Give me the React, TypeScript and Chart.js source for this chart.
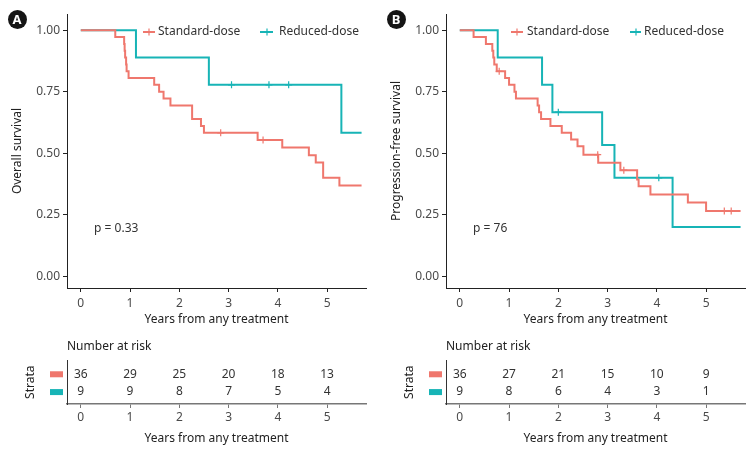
import React, { useEffect, useRef } from 'react';
import { Chart, registerables } from 'chart.js';

Chart.register(...registerables);

// ---------- data ----------
const GROUPS = ['Standard-dose', 'Reduced-dose'];
const X_TICKS = [0, 1, 2, 3, 4, 5];
const Y_TICKS = [0, 0.25, 0.5, 0.75, 1];

// Panel A – overall survival
const A_STD_TIME = [0, 0.70, 0.88, 0.89, 0.90, 0.92, 0.93, 0.97, 1.49, 1.59, 1.68, 1.82, 2.26, 2.44, 2.50, 3.59, 4.09, 4.63, 4.77, 4.92, 5.25, 5.70];
const A_STD_SURV = [1, 0.972, 0.944, 0.917, 0.889, 0.861, 0.833, 0.806, 0.778, 0.750, 0.722, 0.694, 0.639, 0.611, 0.583, 0.554, 0.523, 0.492, 0.462, 0.400, 0.369, 0.369];
const A_STD_CENSOR = [2.84, 3.70];
const A_RED_TIME = [0, 1.12, 2.60, 5.29, 5.70];
const A_RED_SURV = [1, 0.889, 0.778, 0.583, 0.583];
const A_RED_CENSOR = [3.06, 3.82, 4.22];
const A_RISK_STD = [36, 29, 25, 20, 18, 13];
const A_RISK_RED = [9, 9, 8, 7, 5, 4];
const A_P_TEXT = 'p = 0.33';
const A_Y_TITLE = 'Overall survival';

// Panel B – progression-free survival
const B_STD_TIME = [0, 0.28, 0.53, 0.66, 0.68, 0.70, 0.75, 0.92, 1.00, 1.11, 1.14, 1.58, 1.61, 1.65, 1.84, 2.07, 2.26, 2.39, 2.51, 2.81, 3.26, 3.60, 3.63, 3.87, 4.63, 5.00, 5.70];
const B_STD_SURV = [1, 0.972, 0.944, 0.917, 0.889, 0.861, 0.833, 0.806, 0.778, 0.750, 0.722, 0.694, 0.667, 0.639, 0.611, 0.583, 0.556, 0.528, 0.494, 0.461, 0.431, 0.393, 0.366, 0.332, 0.300, 0.265, 0.265];
const B_STD_CENSOR = [0.80, 2.80, 3.33, 5.37, 5.51];
const B_RED_TIME = [0, 0.77, 1.67, 1.88, 2.89, 3.14, 4.32, 5.70];
const B_RED_SURV = [1, 0.889, 0.778, 0.667, 0.533, 0.400, 0.200, 0.200];
const B_RED_CENSOR = [2.00, 4.04];
const B_RISK_STD = [36, 27, 21, 15, 10, 9];
const B_RISK_RED = [9, 8, 6, 4, 3, 1];
const B_P_TEXT = 'p = 76';
const B_Y_TITLE = 'Progression-free survival';

const X_TITLE = 'Years from any treatment';
const RISK_TITLE = 'Number at risk';
const STRATA_TITLE = 'Strata';

// ---------- styles ----------
const RED = '#EF776D';
const TEAL = '#17B4B6';
const COLORS = [RED, TEAL];
const FONT = '"Noto Sans", "DejaVu Sans", sans-serif';
const TICK_COLOR = '#4a4a4a';
const TITLE_COLOR = '#222';
const X_MIN = -0.28;
const X_MAX = 5.79;

function survAt(times: number[], surv: number[], t: number) {
  let v = surv[0];
  for (let i = 0; i < times.length; i++) if (times[i] <= t) v = surv[i];
  return v;
}

type Panel = {
  stdT: number[]; stdS: number[]; stdC: number[];
  redT: number[]; redS: number[]; redC: number[];
  riskStd: number[]; riskRed: number[];
  pText: string; yTitle: string;
  legend: { l0: number; l1: number; cx: number; tx: number }[];
};

const PANELS: Panel[] = [
  {
    stdT: A_STD_TIME, stdS: A_STD_SURV, stdC: A_STD_CENSOR,
    redT: A_RED_TIME, redS: A_RED_SURV, redC: A_RED_CENSOR,
    riskStd: A_RISK_STD, riskRed: A_RISK_RED, pText: A_P_TEXT, yTitle: A_Y_TITLE,
    legend: [{ l0: 143, l1: 155, cx: 149, tx: 158 }, { l0: 260, l1: 273, cx: 267, tx: 279 }],
  },
  {
    stdT: B_STD_TIME, stdS: B_STD_SURV, stdC: B_STD_CENSOR,
    redT: B_RED_TIME, redS: B_RED_SURV, redC: B_RED_CENSOR,
    riskStd: B_RISK_STD, riskRed: B_RISK_RED, pText: B_P_TEXT, yTitle: B_Y_TITLE,
    legend: [{ l0: 132, l1: 144, cx: 138, tx: 148 }, { l0: 251, l1: 262, cx: 257, tx: 265 }],
  },
];

function xScale(height: number, tickPad: number, titlePadBottom: number, axisColor: string, axisWidth: number) {
  return {
    type: 'linear',
    min: X_MIN,
    max: X_MAX,
    afterBuildTicks: (s: any) => { s.ticks = X_TICKS.map((v) => ({ value: v })); },
    afterFit: (s: any) => { s.height = height; },
    grid: { display: true, drawOnChartArea: false, drawTicks: true, tickLength: 4, color: axisColor, lineWidth: 1 },
    border: { display: true, color: axisColor, width: axisWidth },
    ticks: { color: TICK_COLOR, font: { family: FONT, size: 12 }, padding: tickPad, autoSkip: false, maxRotation: 0, callback: (v: any) => String(v) },
    title: { display: true, text: X_TITLE, color: TITLE_COLOR, font: { family: FONT, size: 12 }, padding: { top: 0, bottom: titlePadBottom } },
  };
}

function plotConfig(p: Panel): any {
  const series = [
    { t: p.stdT, s: p.stdS, c: p.stdC },
    { t: p.redT, s: p.redS, c: p.redC },
  ];
  const datasets: any[] = [];
  series.forEach((se, i) => {
    datasets.push({
      label: GROUPS[i],
      data: se.t.map((t, j) => ({ x: t, y: se.s[j] })),
      showLine: true, stepped: 'before', borderColor: COLORS[i], borderWidth: 2,
      pointRadius: 0, fill: false,
    });
    datasets.push({
      label: GROUPS[i] + ' (censored)',
      data: se.c.map((t) => ({ x: t, y: survAt(se.t, se.s, t) })),
      showLine: false, pointStyle: 'cross', pointRadius: 3.5,
      borderColor: COLORS[i], backgroundColor: COLORS[i], pointBorderWidth: 1.2,
    });
  });

  const overlay = {
    id: 'kmOverlay',
    afterDraw(chart: any) {
      const ctx = chart.ctx;
      const xs = chart.scales.x;
      const ys = chart.scales.y;
      ctx.save();
      // legend
      const ly = 32;
      p.legend.forEach((it, i) => {
        ctx.strokeStyle = COLORS[i];
        ctx.lineWidth = 2;
        ctx.beginPath(); ctx.moveTo(it.l0, ly); ctx.lineTo(it.l1, ly); ctx.stroke();
        ctx.lineWidth = 1.2;
        ctx.beginPath(); ctx.moveTo(it.cx, ly - 3.5); ctx.lineTo(it.cx, ly + 3.5); ctx.stroke();
        ctx.fillStyle = '#333';
        ctx.font = `12px ${FONT}`;
        ctx.textAlign = 'left';
        ctx.textBaseline = 'middle';
        ctx.fillText(GROUPS[i], it.tx, ly);
      });
      // p value
      ctx.fillStyle = '#333';
      ctx.font = `12px ${FONT}`;
      ctx.textAlign = 'left';
      ctx.textBaseline = 'middle';
      ctx.fillText(p.pText, xs.getPixelForValue(0.27), ys.getPixelForValue(0.195));
      ctx.restore();
    },
  };

  return {
    type: 'scatter',
    data: { datasets },
    options: {
      animation: false,
      responsive: false,
      maintainAspectRatio: false,
      layout: { padding: { top: 14, right: 11, left: 0, bottom: 0 } },
      plugins: { legend: { display: false }, tooltip: { enabled: false }, title: { display: false } },
      scales: {
        x: xScale(42, 4, 3, '#222', 1),
        y: {
          type: 'linear',
          min: -0.048,
          max: 1.066,
          afterBuildTicks: (s: any) => { s.ticks = Y_TICKS.map((v) => ({ value: v })); },
          afterFit: (s: any) => { s.width = 67; },
          grid: { display: true, drawOnChartArea: false, drawTicks: true, tickLength: 4, color: '#222' },
          border: { display: true, color: '#222', width: 1 },
          ticks: { color: TICK_COLOR, font: { family: FONT, size: 12 }, padding: 3, callback: (v: any) => Number(v).toFixed(2) },
          title: { display: true, text: p.yTitle, color: TITLE_COLOR, font: { family: FONT, size: 12 }, padding: { top: 10, bottom: 0 } },
        },
      },
    },
    plugins: [overlay],
  };
}

function tableConfig(p: Panel): any {
  const rows = [p.riskStd, p.riskRed];
  const datasets = rows.map((r, i) => ({
    label: GROUPS[i],
    data: r.map((n, j) => ({ x: X_TICKS[j], y: rows.length - i, n })),
    showLine: false, pointRadius: 0, borderColor: COLORS[i], backgroundColor: COLORS[i],
  }));

  const overlay = {
    id: 'riskOverlay',
    afterDatasetsDraw(chart: any) {
      const ctx = chart.ctx;
      ctx.save();
      chart.data.datasets.forEach((ds: any, i: number) => {
        const meta = chart.getDatasetMeta(i);
        ctx.fillStyle = '#333';
        ctx.font = `12px ${FONT}`;
        ctx.textAlign = 'center';
        ctx.textBaseline = 'middle';
        meta.data.forEach((el: any, j: number) => {
          ctx.fillText(String(ds.data[j].n), el.x, el.y);
        });
        const py = meta.data[0].y;
        ctx.fillStyle = ds.borderColor;
        ctx.fillRect(50, py - 3, 13, 6);
      });
      ctx.restore();
    },
  };

  return {
    type: 'scatter',
    data: { datasets },
    options: {
      animation: false,
      responsive: false,
      maintainAspectRatio: false,
      layout: { padding: { top: 0, right: 11, left: 0, bottom: 0 } },
      plugins: {
        legend: { display: false },
        tooltip: { enabled: false },
        title: {
          display: true, text: RISK_TITLE, align: 'start', fullSize: false,
          color: TITLE_COLOR, font: { family: FONT, size: 12, weight: 'normal' },
          padding: { top: 9, bottom: 7 },
        },
      },
      scales: {
        x: xScale(47, 2, 5, '#777', 1.5),
        y: {
          type: 'linear',
          min: 0.33,
          max: 2.78,
          afterFit: (s: any) => { s.width = 67; },
          grid: { display: false },
          border: { display: true, color: '#333', width: 1 },
          ticks: { display: false },
          title: { display: true, text: STRATA_TITLE, color: TITLE_COLOR, font: { family: FONT, size: 12 }, padding: { top: 23, bottom: 0 } },
        },
      },
    },
    plugins: [overlay],
  };
}

function ChartCanvas({ config, left, top, width, height }: { config: any; left: number; top: number; width: number; height: number }) {
  const ref = useRef<HTMLCanvasElement | null>(null);
  useEffect(() => {
    if (!ref.current) return;
    const chart = new Chart(ref.current, config);
    return () => chart.destroy();
  }, [config]);
  return (
    <canvas
      ref={ref}
      width={width}
      height={height}
      style={{ position: 'absolute', left, top, width, height }}
    />
  );
}

function Badge({ letter, cx, cy }: { letter: string; cx: number; cy: number }) {
  return (
    <div
      style={{
        position: 'absolute', left: cx - 9.5, top: cy - 9.5, width: 19, height: 19,
        borderRadius: '50%', background: '#151515', color: '#fff',
        fontFamily: FONT, fontWeight: 700, fontSize: 13, lineHeight: '19px', textAlign: 'center',
      }}
    >
      {letter}
    </div>
  );
}

const CONFIGS = PANELS.map((p) => ({ plot: plotConfig(p), table: tableConfig(p) }));
const PANEL_LEFT = [0, 379];
const LETTERS = ['A', 'B'];

export default function App() {
  return (
    <div style={{ position: 'absolute', left: 0, top: 0, width: 754, height: 451, background: '#fff', overflow: 'hidden' }}>
      {CONFIGS.map((c, i) => (
        <React.Fragment key={i}>
          <ChartCanvas config={c.plot} left={PANEL_LEFT[i]} top={0} width={377} height={330} />
          <ChartCanvas config={c.table} left={PANEL_LEFT[i]} top={330} width={377} height={121} />
          <Badge letter={LETTERS[i]} cx={PANEL_LEFT[i] + 17} cy={19} />
        </React.Fragment>
      ))}
    </div>
  );
}
